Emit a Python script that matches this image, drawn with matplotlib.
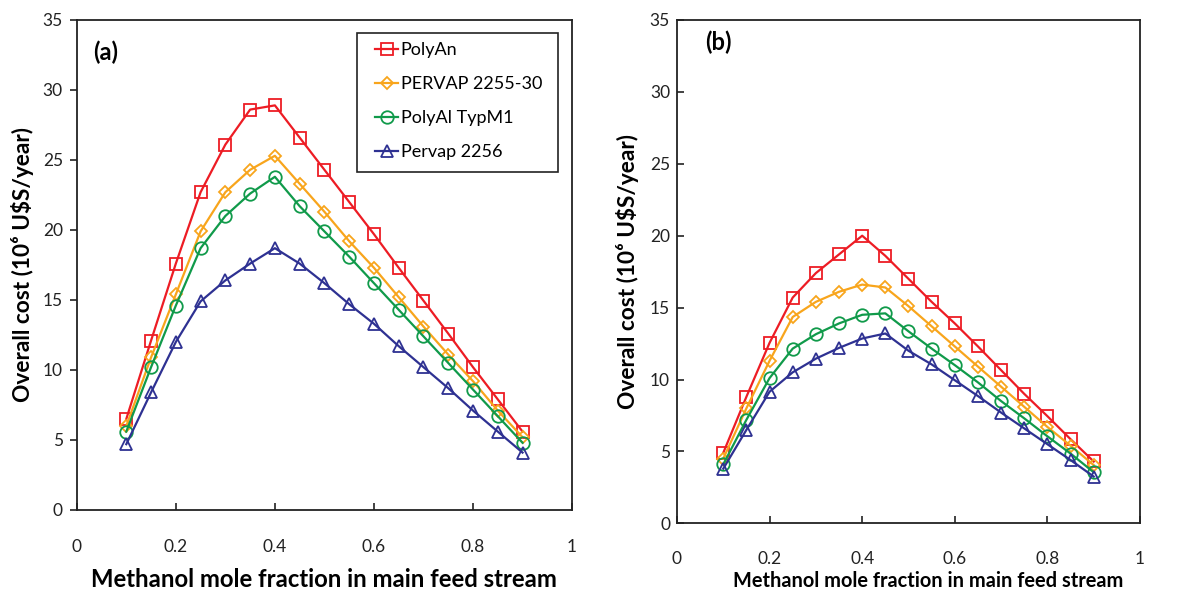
import matplotlib
matplotlib.use("Agg")
import matplotlib.pyplot as plt
import numpy as np

plt.rcParams['font.family'] = ['Lato', 'DejaVu Sans']

# Data
x = [0.1, 0.15, 0.2, 0.25, 0.3, 0.35, 0.4, 0.45, 0.5,
     0.55, 0.6, 0.65, 0.7, 0.75, 0.8, 0.85, 0.9]

labels = ['PolyAn', 'PERVAP 2255-30', 'PolyAl TypM1', 'Pervap 2256']

# panel (a)
a_polyan = [6.5, 12.1, 17.6, 22.7, 26.1, 28.6, 28.9, 26.6, 24.3,
            22.0, 19.7, 17.3, 14.95, 12.6, 10.2, 7.9, 5.6]
a_pervap30 = [6.0, 10.9, 15.4, 19.9, 22.7, 24.3, 25.3, 23.3, 21.3,
              19.2, 17.3, 15.2, 13.1, 11.1, 9.2, 7.1, 5.2]
a_polyal = [5.6, 10.2, 14.6, 18.7, 21.0, 22.6, 23.8, 21.7, 19.9,
            18.1, 16.2, 14.3, 12.4, 10.5, 8.6, 6.7, 4.8]
a_pervap56 = [4.7, 8.4, 12.0, 14.9, 16.4, 17.6, 18.7, 17.6, 16.2,
              14.7, 13.3, 11.7, 10.2, 8.7, 7.1, 5.6, 4.1]

# panel (b)
b_polyan = [4.9, 8.8, 12.55, 15.7, 17.4, 18.7, 20.0, 18.6, 17.0,
            15.4, 13.9, 12.3, 10.65, 9.0, 7.45, 5.85, 4.3]
b_pervap30 = [4.5, 8.0, 11.3, 14.35, 15.4, 16.1, 16.6, 16.4, 15.1,
              13.7, 12.3, 10.9, 9.5, 8.1, 6.7, 5.4, 4.05]
b_polyal = [4.1, 7.2, 10.1, 12.15, 13.15, 13.9, 14.5, 14.6, 13.35,
            12.15, 11.0, 9.8, 8.5, 7.3, 6.05, 4.85, 3.55]
b_pervap56 = [3.8, 6.5, 9.15, 10.5, 11.45, 12.2, 12.85, 13.2, 12.0,
              11.05, 9.95, 8.85, 7.7, 6.6, 5.5, 4.4, 3.25]

colors = ['#ED1C24', '#F8A51C', '#109A4A', '#2E3192']
markers = ['s', 'D', 'o', '^']
msizes = [9, 6, 9, 9]

fig = plt.figure(figsize=(11.81, 5.93), dpi=100)
ax1 = fig.add_axes([0.0650, 0.140, 0.4194, 0.8263])
ax2 = fig.add_axes([0.5732, 0.1175, 0.3921, 0.8488])

def draw(ax, series):
    for ys, c, m, ms, lab in zip(series, colors, markers, msizes, labels):
        ax.plot(x, ys, color=c, lw=1.6, marker=m, ms=ms, mfc='none',
                mec=c, mew=1.3, label=lab)
    ax.set_xlim(0, 1)
    ax.set_ylim(0, 35)
    ax.set_xticks([0, 0.2, 0.4, 0.6, 0.8, 1])
    ax.set_xticklabels(['0', '0.2', '0.4', '0.6', '0.8', '1'])
    ax.set_yticks(np.arange(0, 36, 5))
    for s in ax.spines.values():
        s.set_linewidth(1.3)
        s.set_color('#222222')
    ax.tick_params(labelsize=12.5, colors='#222222')

draw(ax1, [a_polyan, a_pervap30, a_polyal, a_pervap56])
draw(ax2, [b_polyan, b_pervap30, b_polyal, b_pervap56])

ax1.tick_params(axis='x', direction='in', length=5, width=1.2, pad=21)
ax1.tick_params(axis='y', direction='out', length=5, width=1.2, pad=5)
ax2.tick_params(axis='x', direction='in', length=5, width=1.2, pad=20)
ax2.tick_params(axis='y', direction='in', length=5, width=1.2, pad=5)

ylab = 'Overall cost (10\u2076 U$S/year)'
ax1.set_ylabel(ylab, fontsize=16.3, fontweight='bold', labelpad=6)
ax2.set_ylabel(ylab, fontsize=16.3, fontweight='bold', labelpad=8)
ax1.set_xlabel('Methanol mole fraction in main feed stream',
               fontsize=17.2, fontweight='bold', labelpad=9)
ax2.set_xlabel('Methanol mole fraction in main feed stream',
               fontsize=14.4, fontweight='bold')
ax2.xaxis.set_label_coords(0.542, -0.094, transform=ax2.transAxes)

ax1.text(0.033, 0.935, '(a)', transform=ax1.transAxes, fontsize=17,
         fontweight='bold', va='center')
ax2.text(0.06, 0.955, '(b)', transform=ax2.transAxes, fontsize=17,
         fontweight='bold', va='center')

# legend box drawn separately so its padding matches the original
ax1.add_patch(plt.Rectangle((0.566, 0.690), 0.406, 0.283,
                            transform=ax1.transAxes, fill=True,
                            facecolor='white', edgecolor='#222222',
                            lw=1.2, zorder=4))
leg = ax1.legend(loc='upper left', bbox_to_anchor=(0.603, 0.955),
                 fontsize=13, frameon=False,
                 handlelength=1.25, handletextpad=0.15, labelspacing=1.0,
                 borderpad=0, borderaxespad=0)
leg.set_zorder(5)

fig.savefig('out.png', dpi=100)
